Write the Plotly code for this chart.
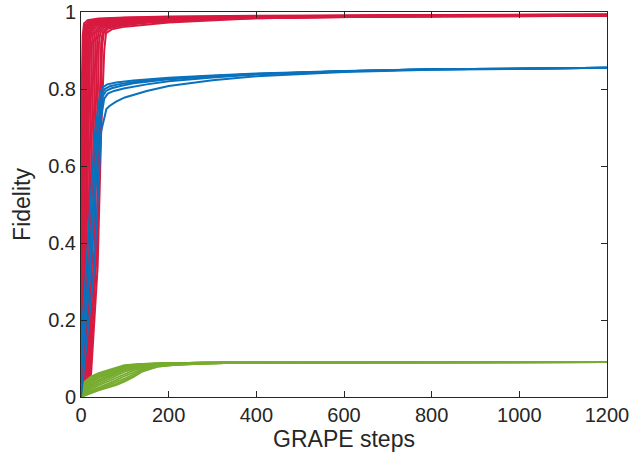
import plotly.graph_objects as go

# GRAPE optimisation traces: fidelity versus iteration for three families of runs.

# Red family: (steps, fidelity) pairs, one pair of lists per run
red_steps = [
    [0, 1, 2, 4, 7, 15, 40, 100, 200, 400, 700, 1200],
    [0, 2, 4, 6, 9, 18, 40, 100, 200, 400, 700, 1200],
    [0, 2, 5, 8, 11, 20, 45, 100, 200, 400, 700, 1200],
    [0, 3, 7, 10, 13, 22, 45, 100, 200, 400, 700, 1200],
    [0, 4, 8, 12, 15, 25, 50, 100, 200, 400, 700, 1200],
    [0, 5, 10, 15, 18, 28, 55, 100, 200, 400, 700, 1200],
    [0, 6, 12, 18, 21, 30, 55, 100, 200, 400, 700, 1200],
    [0, 7, 14, 21, 24, 33, 60, 110, 200, 400, 700, 1200],
    [0, 9, 17, 25, 28, 37, 65, 110, 200, 400, 700, 1200],
    [0, 10, 20, 29, 32, 41, 70, 120, 200, 400, 700, 1200],
    [0, 12, 24, 33, 36, 45, 75, 120, 200, 400, 700, 1200],
    [0, 14, 27, 37, 40, 49, 80, 130, 220, 400, 700, 1200],
    [0, 16, 31, 41, 44, 53, 85, 130, 220, 400, 700, 1200],
    [0, 18, 35, 46, 49, 58, 90, 140, 250, 400, 700, 1200],
    [0, 20, 38, 48, 52, 62, 95, 150, 250, 400, 700, 1200],
    [0, 15, 23, 38, 46, 53, 57, 70, 100, 200, 400, 700, 1200],
]
red_fid = [
    [0.02, 0.45, 0.82, 0.94, 0.970, 0.979, 0.983, 0.986, 0.988, 0.990, 0.992, 0.994],
    [0.01, 0.35, 0.75, 0.93, 0.965, 0.977, 0.981, 0.985, 0.987, 0.989, 0.991, 0.993],
    [0.03, 0.20, 0.60, 0.92, 0.960, 0.975, 0.980, 0.984, 0.986, 0.989, 0.991, 0.993],
    [0.00, 0.18, 0.62, 0.92, 0.958, 0.973, 0.979, 0.983, 0.986, 0.988, 0.990, 0.992],
    [0.02, 0.15, 0.55, 0.92, 0.955, 0.971, 0.977, 0.982, 0.985, 0.988, 0.990, 0.992],
    [0.01, 0.12, 0.55, 0.92, 0.953, 0.970, 0.976, 0.981, 0.985, 0.988, 0.990, 0.992],
    [0.02, 0.10, 0.50, 0.92, 0.952, 0.968, 0.975, 0.980, 0.984, 0.987, 0.990, 0.992],
    [0.00, 0.08, 0.48, 0.92, 0.950, 0.967, 0.974, 0.979, 0.984, 0.987, 0.990, 0.992],
    [0.01, 0.07, 0.45, 0.92, 0.950, 0.966, 0.973, 0.978, 0.983, 0.987, 0.989, 0.991],
    [0.02, 0.06, 0.42, 0.92, 0.948, 0.964, 0.972, 0.977, 0.982, 0.986, 0.989, 0.991],
    [0.00, 0.06, 0.42, 0.92, 0.948, 0.963, 0.971, 0.976, 0.982, 0.986, 0.989, 0.991],
    [0.01, 0.05, 0.40, 0.92, 0.947, 0.962, 0.970, 0.975, 0.981, 0.986, 0.989, 0.991],
    [0.02, 0.05, 0.40, 0.92, 0.946, 0.960, 0.968, 0.974, 0.980, 0.985, 0.989, 0.991],
    [0.00, 0.05, 0.40, 0.92, 0.946, 0.959, 0.967, 0.973, 0.980, 0.985, 0.988, 0.991],
    [0.01, 0.05, 0.42, 0.91, 0.945, 0.957, 0.965, 0.972, 0.979, 0.984, 0.988, 0.990],
    [0.01, 0.03, 0.06, 0.34, 0.69, 0.90, 0.945, 0.955, 0.962, 0.973, 0.984, 0.988, 0.990],
]

# Blue family
blue_steps = [
    [0, 12, 32, 44, 50, 60, 80, 120, 200, 300, 400, 600, 800, 1200],
    [0, 18, 37, 48, 54, 66, 85, 120, 200, 300, 400, 600, 800, 1200],
    [0, 20, 39, 50, 57, 70, 90, 120, 200, 300, 400, 600, 800, 1200],
    [0, 22, 41, 53, 61, 75, 100, 150, 200, 300, 400, 600, 800, 1200],
    [0, 30, 46, 58, 65, 80, 100, 150, 200, 300, 400, 600, 800, 1200],
]
blue_fid = [
    [0.13, 0.33, 0.69, 0.790, 0.805, 0.812, 0.817, 0.822, 0.829, 0.835, 0.840, 0.847, 0.851, 0.855],
    [0.11, 0.33, 0.69, 0.787, 0.800, 0.807, 0.812, 0.818, 0.827, 0.834, 0.839, 0.846, 0.851, 0.855],
    [0.10, 0.33, 0.69, 0.782, 0.795, 0.802, 0.808, 0.815, 0.825, 0.833, 0.839, 0.846, 0.851, 0.855],
    [0.06, 0.33, 0.69, 0.775, 0.788, 0.795, 0.802, 0.812, 0.820, 0.830, 0.838, 0.846, 0.851, 0.855],
    [0.00, 0.33, 0.69, 0.748, 0.756, 0.767, 0.778, 0.795, 0.808, 0.823, 0.833, 0.844, 0.850, 0.855],
]

# Green family, all sampled at the same steps
green_steps = [0, 2, 10, 23, 40, 61, 80, 99, 120, 140, 175, 210, 280, 350, 600, 1200]
green_fid = [
    [0, 0.030, 0.042, 0.053, 0.062, 0.070, 0.077, 0.083, 0.085, 0.086, 0.0875, 0.088, 0.089, 0.090, 0.0905, 0.0910],
    [0, 0.026, 0.039, 0.050, 0.060, 0.068, 0.075, 0.081, 0.084, 0.086, 0.0872, 0.088, 0.089, 0.090, 0.0905, 0.0910],
    [0, 0.022, 0.036, 0.048, 0.058, 0.067, 0.074, 0.080, 0.084, 0.086, 0.0870, 0.088, 0.089, 0.090, 0.0905, 0.0910],
    [0, 0.018, 0.033, 0.045, 0.055, 0.065, 0.072, 0.079, 0.083, 0.085, 0.0870, 0.088, 0.089, 0.090, 0.0905, 0.0910],
    [0, 0.015, 0.030, 0.043, 0.053, 0.063, 0.071, 0.078, 0.083, 0.085, 0.0870, 0.088, 0.089, 0.090, 0.0905, 0.0910],
    [0, 0.012, 0.027, 0.040, 0.051, 0.061, 0.069, 0.076, 0.082, 0.085, 0.0865, 0.088, 0.089, 0.089, 0.0903, 0.0909],
    [0, 0.010, 0.024, 0.038, 0.049, 0.059, 0.068, 0.075, 0.081, 0.084, 0.0860, 0.088, 0.089, 0.089, 0.0902, 0.0908],
    [0, 0.008, 0.020, 0.033, 0.044, 0.055, 0.064, 0.072, 0.079, 0.083, 0.0860, 0.087, 0.088, 0.089, 0.0902, 0.0908],
    [0, 0.007, 0.018, 0.030, 0.041, 0.052, 0.062, 0.070, 0.077, 0.082, 0.0855, 0.087, 0.088, 0.089, 0.0901, 0.0907],
    [0, 0.006, 0.016, 0.028, 0.039, 0.050, 0.060, 0.069, 0.076, 0.081, 0.0850, 0.087, 0.088, 0.089, 0.0900, 0.0906],
    [0, 0.004, 0.013, 0.024, 0.034, 0.045, 0.055, 0.065, 0.073, 0.079, 0.0840, 0.086, 0.088, 0.089, 0.0900, 0.0906],
    [0, 0.003, 0.010, 0.020, 0.030, 0.040, 0.050, 0.060, 0.069, 0.076, 0.0830, 0.086, 0.088, 0.089, 0.0900, 0.0905],
    [0, 0.002, 0.008, 0.016, 0.025, 0.035, 0.044, 0.054, 0.064, 0.073, 0.0810, 0.085, 0.087, 0.089, 0.0900, 0.0905],
    [0, 0.002, 0.006, 0.013, 0.021, 0.030, 0.038, 0.048, 0.059, 0.070, 0.0800, 0.084, 0.087, 0.089, 0.0900, 0.0905],
    [0, 0.001, 0.005, 0.011, 0.019, 0.027, 0.034, 0.044, 0.055, 0.068, 0.0790, 0.083, 0.087, 0.089, 0.0900, 0.0905],
    [0, 0.001, 0.004, 0.010, 0.017, 0.024, 0.031, 0.040, 0.052, 0.066, 0.0790, 0.083, 0.087, 0.089, 0.0900, 0.0905],
]

x_ticks = [0, 200, 400, 600, 800, 1000, 1200]
y_ticks = [0, 0.2, 0.4, 0.6, 0.8, 1]

RED = "#d81a40"
BLUE = "#0a72bd"
GREEN = "#77ac30"
INK = "#262626"
FONT = "Liberation Sans, Arial, Helvetica, sans-serif"

fig = go.Figure()

for xs, ys in zip(red_steps, red_fid):
    fig.add_trace(go.Scatter(x=xs, y=ys, mode="lines",
                             line=dict(color=RED, width=2), showlegend=False))
for ys in green_fid:
    fig.add_trace(go.Scatter(x=green_steps, y=ys, mode="lines",
                             line=dict(color=GREEN, width=1.8), showlegend=False))
for xs, ys in zip(blue_steps, blue_fid):
    fig.add_trace(go.Scatter(x=xs, y=ys, mode="lines",
                             line=dict(color=BLUE, width=2), showlegend=False))

axis_common = dict(
    showline=True, linecolor=INK, linewidth=1, mirror="ticks",
    ticks="inside", ticklen=6, tickwidth=1, tickcolor=INK,
    showgrid=False, zeroline=False,
    tickfont=dict(family=FONT, size=20, color=INK),
    automargin=False,
)

fig.update_xaxes(range=[0, 1200], tickvals=x_ticks,
                 ticktext=[str(v) for v in x_ticks],
                 title=dict(text="GRAPE steps", font=dict(family=FONT, size=23, color=INK),
                            standoff=2),
                 **axis_common)
fig.update_yaxes(range=[0, 1], tickvals=y_ticks,
                 ticktext=["0", "0.2", "0.4", "0.6", "0.8", "1"],
                 title=dict(text="Fidelity", font=dict(family=FONT, size=23, color=INK),
                            standoff=11),
                 **axis_common)

fig.update_layout(
    width=632, height=458,
    margin=dict(l=81, r=25, t=12, b=61),
    paper_bgcolor="white", plot_bgcolor="white",
    showlegend=False,
)

fig.write_html("out.html")
